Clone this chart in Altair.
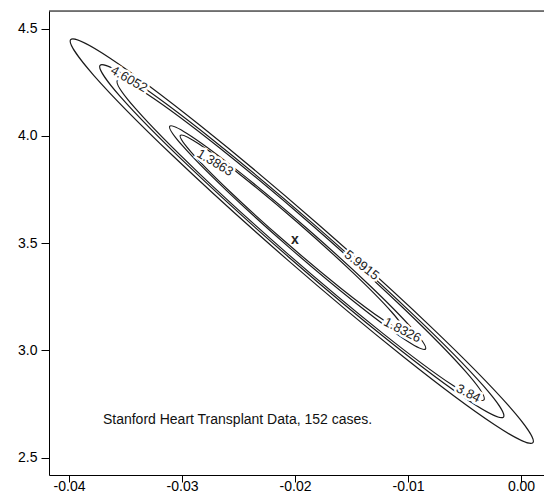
import altair as alt
import pandas as pd

# Likelihood contour levels (chi-square cut-offs)
levels = ["5.9915", "4.6052", "3.84", "1.8326", "1.3863"]

# Contour vertices (closed curves, 12 points each)
c59915_x = [0.001053, -0.002371, -0.010356, -0.020766, -0.030810, -0.037795,
            -0.039853, -0.036429, -0.028444, -0.018034, -0.007990, -0.001005]
c59915_y = [2.5695, 2.6541, 2.9678, 3.4266, 3.9075, 4.2817,
            4.4490, 4.3644, 4.0507, 3.5919, 3.1110, 2.7368]

c46052_x = [-0.001550, -0.004541, -0.011512, -0.020598, -0.029362, -0.035457,
            -0.037250, -0.034259, -0.027288, -0.018202, -0.009438, -0.003343]
c46052_y = [2.6891, 2.7627, 3.0364, 3.4368, 3.8566, 4.1833,
            4.3294, 4.2557, 3.9821, 3.5817, 3.1619, 2.8352]

c384_x = [-0.003285, -0.006005, -0.012339, -0.020593, -0.028555, -0.034089,
          -0.035715, -0.032995, -0.026661, -0.018407, -0.010445, -0.004911]
c384_y = [2.7688, 2.8356, 3.0840, 3.4477, 3.8291, 4.1260,
          4.2589, 4.1921, 3.9436, 3.5800, 3.1986, 2.9017]

c18326_x = [-0.008456, -0.010350, -0.014766, -0.020523, -0.026078, -0.029940,
            -0.031078, -0.029184, -0.024768, -0.019011, -0.013456, -0.009594]
c18326_y = [3.0064, 3.0532, 3.2266, 3.4804, 3.7463, 3.9533,
            4.0458, 3.9990, 3.8255, 3.5718, 3.3059, 3.0989]

c13863_x = [-0.010458, -0.012106, -0.015948, -0.020958, -0.025792, -0.029154,
            -0.030144, -0.028496, -0.024654, -0.019644, -0.014810, -0.011448]
c13863_y = [3.0984, 3.1391, 3.2901, 3.5109, 3.7423, 3.9224,
            4.0029, 3.9621, 3.8112, 3.5904, 3.3589, 3.1789]

contours_x = [c59915_x, c46052_x, c384_x, c18326_x, c13863_x]
contours_y = [c59915_y, c46052_y, c384_y, c18326_y, c13863_y]

# Contour labels: text, position, rotation
label_text = ["4.6052", "1.3863", "5.9915", "1.8326", "3.84"]
label_x = [-0.03469, -0.02708, -0.0141, -0.0105, -0.00466]
label_y = [4.264, 3.875, 3.397, 3.094, 2.799]
label_angle = [30, 31, 38, 27, 27]

# Estimate marker
est_x = [-0.0200]
est_y = [3.517]

note_text = ["Stanford Heart Transplant Data, 152 cases."]
note_x = [-0.0370]
note_y = [2.6755]

x_ticks = [-0.04, -0.03, -0.02, -0.01, 0.00]
y_ticks = [2.5, 3.0, 3.5, 4.0, 4.5]
x_domain = [-0.04177, 0.002035]
y_domain = [2.4188, 4.5826]

W, H = 495, 464
FONT = "Liberation Sans"

rows = []
for lev, xs, ys in zip(levels, contours_x, contours_y):
    for i, (a, b) in enumerate(zip(xs, ys)):
        rows.append({"level": lev, "i": i, "x": a, "y": b})
cdf = pd.DataFrame(rows)

ldf = pd.DataFrame({"t": label_text, "x": label_x, "y": label_y, "a": label_angle})

xs = alt.Scale(domain=x_domain, nice=False, zero=False)
ys = alt.Scale(domain=y_domain, nice=False, zero=False)

xaxis = alt.Axis(values=x_ticks, labelExpr="replace(format(datum.value, '.2f'), '\u2212', '-')",
                 title=None, grid=False, tickSize=7, labelPadding=-3, domainColor="black",
                 tickColor="black", labelColor="black", labelFont=FONT, labelFontSize=14,
                 labelFlush=False)
yaxis = alt.Axis(values=y_ticks, format=".1f", title=None, grid=False, tickSize=8,
                 labelPadding=4, domainColor="black", tickColor="black",
                 labelColor="black", labelFont=FONT, labelFontSize=14, labelFlush=False)

lines = alt.Chart(cdf).mark_line(interpolate="cardinal-closed", color="#1a1a1a",
                                 strokeWidth=1.2).encode(
    x=alt.X("x:Q", scale=xs, axis=xaxis),
    y=alt.Y("y:Q", scale=ys, axis=yaxis),
    detail="level:N",
    order="i:Q",
)

halo = alt.Chart(ldf).mark_text(font=FONT, fontSize=13, color="white", stroke="white",
                                strokeWidth=5, align="center", baseline="middle").encode(
    x=alt.X("x:Q", scale=xs), y=alt.Y("y:Q", scale=ys), text="t:N",
    angle=alt.Angle("a:Q", scale=None))

labels = alt.Chart(ldf).mark_text(font=FONT, fontSize=13, color="#222222",
                                  align="center", baseline="middle").encode(
    x=alt.X("x:Q", scale=xs), y=alt.Y("y:Q", scale=ys), text="t:N",
    angle=alt.Angle("a:Q", scale=None))

est = alt.Chart(pd.DataFrame({"x": est_x, "y": est_y, "t": ["x"]})).mark_text(
    font=FONT, fontSize=14, fontWeight="bold", color="#222222", align="center",
    baseline="middle").encode(x=alt.X("x:Q", scale=xs), y=alt.Y("y:Q", scale=ys), text="t:N")

note = alt.Chart(pd.DataFrame({"x": note_x, "y": note_y, "t": note_text})).mark_text(
    font=FONT, fontSize=14, color="#111111", align="left", baseline="middle").encode(
    x=alt.X("x:Q", scale=xs), y=alt.Y("y:Q", scale=ys), text="t:N")

top = alt.Chart(pd.DataFrame({"v": [0]})).mark_rule(color="black", strokeWidth=1).encode(
    x=alt.value(0), x2=alt.value(W), y=alt.value(0))

chart = alt.layer(lines, halo, labels, est, note, top).properties(
    width=W, height=H,
    autosize=alt.AutoSizeParams(type="none"),
    padding={"left": 41, "top": 3, "right": 0, "bottom": 20},
).configure_view(stroke=None).configure(background="white")

chart.save("out.html", embed_options={"renderer": "svg", "actions": False})
